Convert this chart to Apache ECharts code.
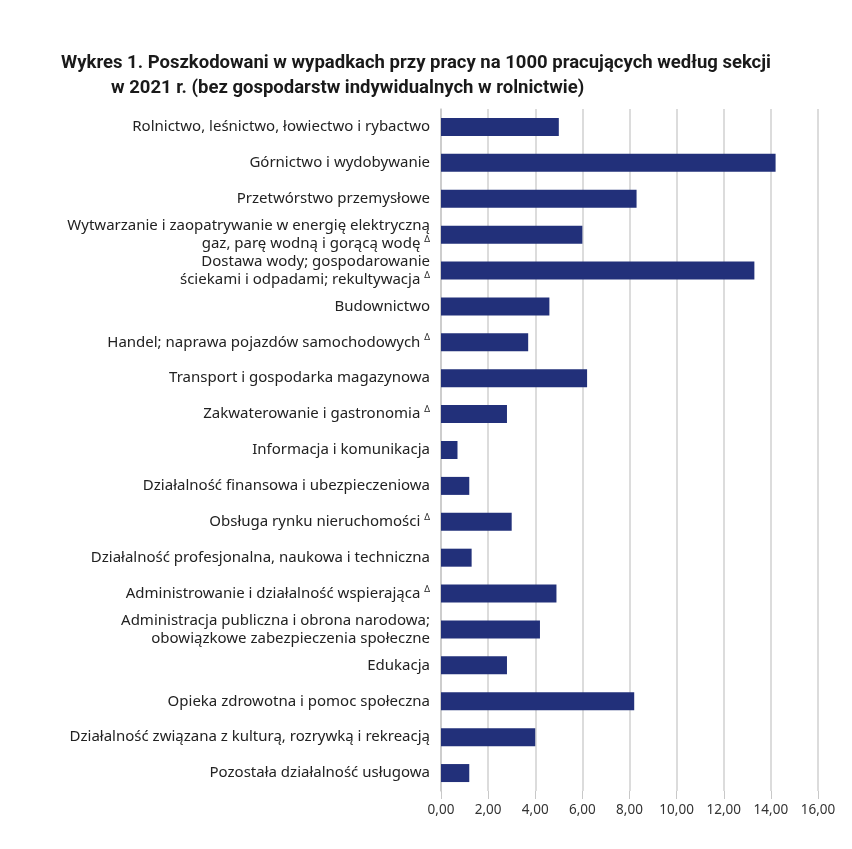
<!DOCTYPE html>
<html lang="pl">
<head>
    <meta charset="UTF-8">
    <title>Wykres 1</title>
    <style>
        * {
            padding: 0;
            margin: 0;
        }

        .EC {
            width: 852px;
            height: 849px;
            background: #fff;
        }
    </style>
    <script src="https://cdn.jsdelivr.net/npm/echarts@6.0.0/dist/echarts.min.js"></script>
</head>
<body>
<div class="EC"></div>
<script>
    // sections, top to bottom; '^' marks the small triangle sign
    const sections = [
        'Rolnictwo, leśnictwo, łowiectwo i rybactwo',
        'Górnictwo i wydobywanie',
        'Przetwórstwo przemysłowe',
        'Wytwarzanie i zaopatrywanie w energię elektryczną\ngaz, parę wodną i gorącą wodę ^',
        'Dostawa wody; gospodarowanie\nściekami i odpadami; rekultywacja ^',
        'Budownictwo',
        'Handel; naprawa pojazdów samochodowych ^',
        'Transport i gospodarka magazynowa',
        'Zakwaterowanie i gastronomia ^',
        'Informacja i komunikacja',
        'Działalność finansowa i ubezpieczeniowa',
        'Obsługa rynku nieruchomości ^',
        'Działalność profesjonalna, naukowa i techniczna',
        'Administrowanie i działalność wspierająca ^',
        'Administracja publiczna i obrona narodowa;\nobowiązkowe zabezpieczenia społeczne',
        'Edukacja',
        'Opieka zdrowotna i pomoc społeczna',
        'Działalność związana z kulturą, rozrywką i rekreacją',
        'Pozostała działalność usługowa'
    ]
    const injured = [5.0, 14.2, 8.3, 6.0, 13.3, 4.6, 3.7, 6.2, 2.8, 0.7, 1.2, 3.0, 1.3, 4.9, 4.2, 2.8, 8.2, 4.0, 1.2]
    const titleLines = [
        'Wykres 1. Poszkodowani w wypadkach przy pracy na 1000 pracujących według sekcji',
        'w 2021 r. (bez gospodarstw indywidualnych w rolnictwie)'
    ]

    let EC = echarts.init(document.querySelector('.EC'))
    let option = {
        backgroundColor: '#fff',
        animation: false,
        title: [
            {
                text: titleLines[0],
                left: 56,
                top: 49,
                textStyle: {fontFamily: 'Roboto', fontWeight: 'bold', fontSize: 18.5, color: '#1a1a1a'}
            },
            {
                text: titleLines[1],
                left: 106,
                top: 74,
                textStyle: {fontFamily: 'Roboto', fontWeight: 'bold', fontSize: 18.5, color: '#1a1a1a'}
            }
        ],
        grid: {
            left: 441,
            right: 34,
            top: 109,
            bottom: 58
        },
        xAxis: {
            type: 'value',
            min: 0,
            max: 16,
            interval: 2,
            axisLine: {show: false},
            axisTick: {show: true, length: 8, lineStyle: {color: '#c8c8c8'}},
            splitLine: {show: true, lineStyle: {color: '#d0d0d0', width: 1.5}},
            axisLabel: {
                margin: 12,
                fontFamily: 'Noto Sans',
                fontSize: 13.5,
                color: '#333',
                formatter: v => v.toFixed(2).replace('.', ',')
            }
        },
        yAxis: {
            type: 'category',
            inverse: true,
            data: sections,
            axisLine: {show: true, lineStyle: {color: '#c8c8c8', width: 1.5}},
            axisTick: {show: false},
            axisLabel: {
                margin: 11,
                fontFamily: 'Noto Sans',
                fontSize: 15,
                lineHeight: 18,
                color: '#222',
                formatter: v => v.replace(/\^/g, '{t|Δ}'),
                rich: {
                    t: {fontSize: 9, verticalAlign: 'top', color: '#222', fontFamily: 'Noto Sans'}
                }
            }
        },
        series: [
            {
                type: 'bar',
                data: injured,
                barWidth: 18,
                itemStyle: {color: '#22307a'}
            }
        ]
    }
    EC.setOption(option)
</script>
</body>
</html>
